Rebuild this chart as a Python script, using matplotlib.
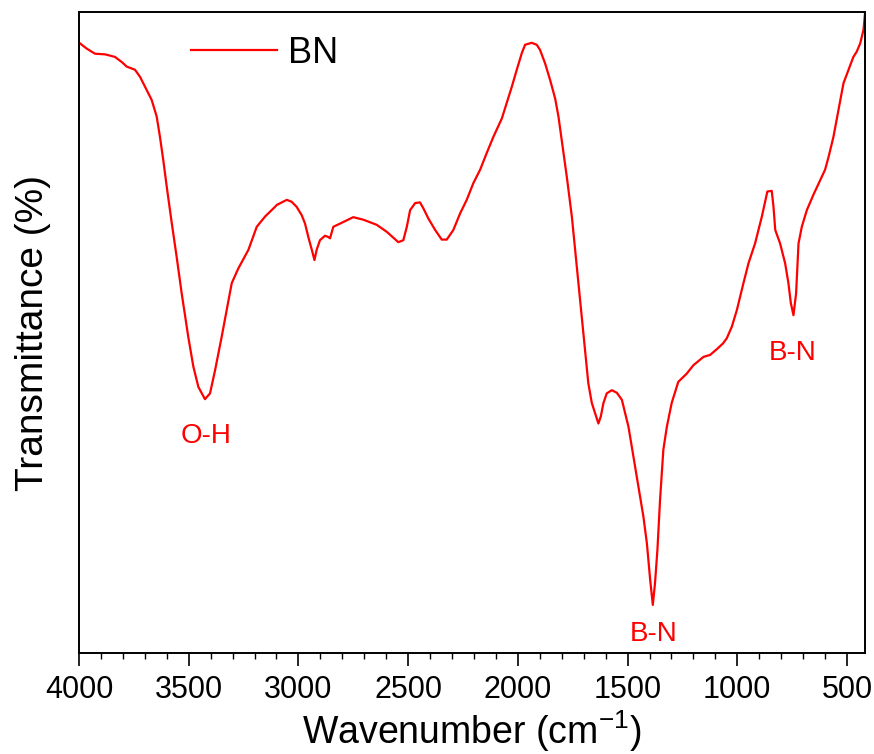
import matplotlib
matplotlib.use('Agg')
import matplotlib.pyplot as plt
import numpy as np
from matplotlib.ticker import MultipleLocator

plt.rcParams['font.family'] = ['Liberation Sans', 'DejaVu Sans']
plt.rcParams['mathtext.fontset'] = 'custom'
plt.rcParams['mathtext.rm'] = 'Liberation Sans'

# FTIR spectrum of BN
wavenumber = [3995, 3965, 3927, 3881, 3836, 3805, 3783, 3745, 3722, 3691,
              3669, 3646, 3631, 3616, 3600, 3577, 3555, 3532, 3502, 3479,
              3456, 3426, 3403, 3380, 3350, 3327, 3304, 3274, 3228, 3190,
              3152, 3107, 3099, 3053, 3031, 3008, 2985, 2970, 2955, 2939,
              2927, 2917, 2902, 2879, 2864, 2856, 2841, 2810, 2750, 2704,
              2643, 2597, 2545, 2522, 2506, 2491, 2468, 2446, 2431, 2408,
              2377, 2347, 2324, 2294, 2263, 2233, 2203, 2172, 2142, 2112,
              2073, 2051, 2028, 2005, 1982, 1967, 1937, 1914, 1899, 1876,
              1853, 1830, 1815, 1800, 1777, 1754, 1739, 1724, 1709, 1694,
              1679, 1663, 1648, 1633, 1622, 1610, 1595, 1572, 1549, 1526,
              1496, 1473, 1443, 1428, 1412, 1397, 1385, 1375, 1364, 1352,
              1337, 1321, 1299, 1269, 1230, 1200, 1154, 1124, 1090, 1065,
              1048, 1025, 1002, 972, 949, 919, 888, 873, 863, 843,
              835, 827, 805, 782, 767, 756, 744, 732, 721, 706,
              683, 653, 622, 600, 584, 562, 539, 516, 493, 471,
              456, 440, 425, 418]
transmittance = [95.1, 94.3, 93.5, 93.4, 93.0, 92.2, 91.5, 91.0, 89.9, 87.8,
                 86.3, 83.7, 80.5, 76.9, 72.7, 67.0, 61.8, 56.1, 49.3, 44.7,
                 41.5, 39.6, 40.5, 44.1, 49.3, 53.5, 57.7, 60.0, 62.9, 66.5,
                 68.1, 69.6, 69.9, 70.7, 70.4, 69.6, 68.3, 67.0, 64.9, 62.9,
                 61.3, 62.9, 64.4, 65.1, 64.9, 64.7, 66.5, 67.0, 68.0, 67.6,
                 66.8, 65.7, 64.1, 64.4, 66.5, 69.1, 70.2, 70.3, 69.4, 67.8,
                 66.0, 64.5, 64.5, 66.0, 68.6, 70.7, 73.3, 75.4, 78.0, 80.5,
                 83.4, 85.8, 88.3, 91.0, 93.6, 94.9, 95.2, 94.9, 94.1, 92.0,
                 89.4, 86.5, 83.7, 80.0, 74.3, 68.1, 62.9, 57.7, 52.5, 47.3,
                 42.1, 39.0, 37.4, 35.8, 36.9, 39.0, 40.5, 41.0, 40.6, 39.5,
                 35.3, 30.6, 24.4, 21.3, 17.1, 11.4, 7.5, 10.9, 16.1, 23.9,
                 31.7, 35.3, 39.0, 42.3, 43.6, 44.9, 46.2, 46.5, 47.5, 48.3,
                 49.1, 50.9, 53.5, 57.7, 60.8, 63.9, 68.1, 70.4, 72.0, 72.1,
                 69.6, 66.0, 63.9, 60.8, 57.7, 54.6, 52.7, 56.1, 63.9, 66.5,
                 69.1, 71.5, 73.8, 75.4, 77.4, 80.5, 84.7, 88.9, 91.0, 93.0,
                 93.8, 95.1, 97.2, 99.8]

peak_labels = ['O-H', 'B-N', 'B-N']
peak_pos = [3420, 1380, 750]
peak_y = [33.8, 3.0, 46.8]

fig = plt.figure(figsize=(8.74, 7.54), dpi=100)
ax = fig.add_axes([0.0904, 0.134, 0.8993, 0.850])

ax.plot(wavenumber, transmittance, color='#ff0000', linewidth=1.6, label='BN')

for lab, xp, yp in zip(peak_labels, peak_pos, peak_y):
    ax.text(xp, yp, lab, color='#ff0000', fontsize=20, ha='center', va='center')

ax.set_xlim(4000, 418)
ax.set_ylim(0, 100)
ax.xaxis.set_major_locator(MultipleLocator(500))
ax.xaxis.set_minor_locator(MultipleLocator(100))
ax.tick_params(axis='x', which='major', direction='out', length=9, width=1.2,
               labelsize=22, pad=7)
ax.tick_params(axis='x', which='minor', direction='out', length=4.5, width=1.0)
ax.set_yticks([])
for sp in ax.spines.values():
    sp.set_linewidth(1.4)

ax.set_xlabel('Wavenumber (cm$^{\\mathrm{-1}}$)', fontsize=27, labelpad=2)
ax.set_ylabel('Transmittance (%)', fontsize=28, labelpad=20)

ax.legend(loc='center left', bbox_to_anchor=(0.142, 0.936), frameon=False,
          fontsize=26, handlelength=2.4, handletextpad=0.3,
          borderpad=0, borderaxespad=0)

fig.savefig('out.png', dpi=100)
